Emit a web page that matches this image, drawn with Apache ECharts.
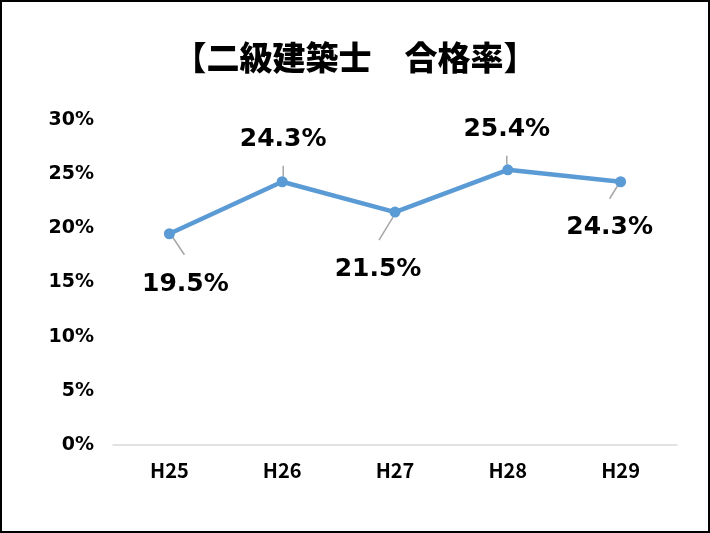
<!DOCTYPE html>
<html>
<head>
<meta charset="utf-8">
<script src="https://cdn.jsdelivr.net/npm/echarts@6/dist/echarts.min.js"></script>
<style>
html,body{margin:0;padding:0;background:#fff;}
#c{width:710px;height:533px;box-sizing:border-box;border:2px solid #000;}
</style>
</head>
<body>
<div id="c"></div>
<script>
const titleText = '【二級建築士　合格率】';
const categories = ['H25', 'H26', 'H27', 'H28', 'H29'];
const passRates = [19.5, 24.3, 21.5, 25.4, 24.3];

// label layout (styling, not data)
const labelBelow = [true, false, true, false, true];
const labelDistance = [33, 24, 39, 22, 28];
const labelShiftX = [16, 1, -17, -1, -11];
const leaderStart = [[3, 3], [1, -5], [-2, 5], [-1, -5], [-3, 4]];
const leaderEnd = [[15, 21], [1, -16], [-16, 28], [-1, -14], [-11, 17]];

const chart = echarts.init(document.getElementById('c'));
chart.setOption({
  animation: false,
  backgroundColor: '#fff',
  title: {
    text: titleText,
    left: 'center',
    top: 34,
    textStyle: { fontFamily: 'Noto Sans CJK JP', fontWeight: 900, fontSize: 33, color: '#000' }
  },
  grid: { left: 111, right: 31, top: 118, bottom: 86 },
  xAxis: {
    type: 'category',
    data: categories,
    boundaryGap: true,
    axisLine: { lineStyle: { color: '#d9d9d9', width: 1.5 } },
    axisTick: { show: false },
    axisLabel: { margin: 15, fontFamily: 'Noto Sans CJK JP', fontWeight: 'bold', fontSize: 20, color: '#000' }
  },
  yAxis: {
    type: 'value',
    min: 0, max: 30, interval: 5,
    splitLine: { show: false },
    axisLine: { show: false },
    axisTick: { show: false },
    axisLabel: { margin: 19, formatter: '{value}%', fontFamily: 'DejaVu Sans', fontWeight: 'bold', fontSize: 19, color: '#000' }
  },
  series: [{
    type: 'custom',
    z: 1,
    silent: true,
    data: passRates.map((v, i) => [i, v]),
    encode: { x: 0, y: 1 },
    renderItem: (params, api) => {
      const i = params.dataIndex;
      const p = api.coord([api.value(0), api.value(1)]);
      return {
        type: 'line',
        shape: {
          x1: p[0] + leaderStart[i][0], y1: p[1] + leaderStart[i][1],
          x2: p[0] + leaderEnd[i][0], y2: p[1] + leaderEnd[i][1]
        },
        style: { stroke: '#a6a6a6', lineWidth: 1.5 }
      };
    }
  }, {
    type: 'line',
    z: 2,
    data: passRates.map((v, i) => ({
      value: v,
      label: {
        position: labelBelow[i] ? 'bottom' : 'top',
        distance: labelDistance[i],
        offset: [labelShiftX[i], 0]
      }
    })),
    symbol: 'circle',
    symbolSize: 11,
    lineStyle: { color: '#5b9bd5', width: 4.5 },
    itemStyle: { color: '#5b9bd5' },
    label: {
      show: true,
      formatter: p => p.value.toFixed(1) + '%',
      fontFamily: 'DejaVu Sans',
      fontWeight: 'bold',
      fontSize: 25,
      color: '#000'
    }
  }]
});
</script>
</body>
</html>
